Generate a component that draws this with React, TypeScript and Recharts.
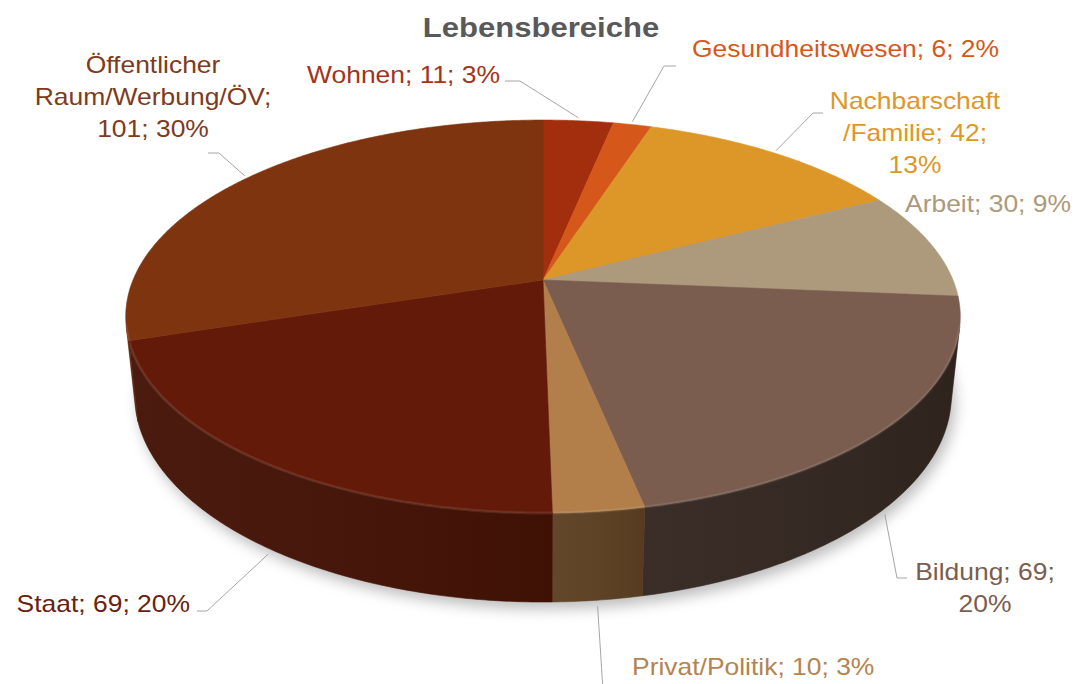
import React from 'react';
import { PieChart, Pie } from 'recharts';

// ---------- data ----------
const categories = [
  'Wohnen',
  'Gesundheitswesen',
  'Nachbarschaft/Familie',
  'Arbeit',
  'Bildung',
  'Privat/Politik',
  'Staat',
  'Öffentlicher Raum/Werbung/ÖV',
];
const values = [11, 6, 42, 30, 69, 10, 69, 101];
const percentLabels = ['3%', '2%', '13%', '9%', '20%', '3%', '20%', '30%'];

// ---------- styles ----------
const topColors = ['#a22e0d', '#d5581a', '#dd9728', '#ad997b', '#7b5d50', '#b27f4a', '#631a08', '#7f3410'];
const wallColors = ['#6e1f08', '#93390f', '#9a6519', '#7a6a54', '#32251f', '#5c3f22', '#431104', '#5a2409'];
const textColors = ['#a3341a', '#d5581a', '#dd9728', '#ad997b', '#7b5d50', '#b5844f', '#6a2210', '#803a1c'];

const FONT = '"Liberation Sans", Arial, Helvetica, sans-serif';
const FS = 23;
const SX = 1.15;

// label layout (text position + leader elbow points, from pie outward)
type Layout = {
  lines: string[];
  x: number;
  ys: number[];
  anchor: 'start' | 'middle' | 'end';
  leader: number[][] | null;
  at: 'top' | 'bottom';
};
const c = categories, v = values, p = percentLabels;
const labelLayout: Layout[] = [
  { lines: [`${c[0]}; ${v[0]}; ${p[0]}`], x: 500, ys: [83], anchor: 'end', leader: [[520, 81], [505, 81]], at: 'top' },
  { lines: [`${c[1]}; ${v[1]}; ${p[1]}`], x: 692, ys: [57], anchor: 'start', leader: [[664, 66], [676, 66]], at: 'top' },
  { lines: ['Nachbarschaft', `/Familie; ${v[2]};`, p[2]], x: 915, ys: [109, 141, 173], anchor: 'middle', leader: [[813, 113], [823, 113]], at: 'top' },
  { lines: [`${c[3]}; ${v[3]}; ${p[3]}`], x: 905, ys: [212], anchor: 'start', leader: null, at: 'top' },
  { lines: [`${c[4]}; ${v[4]};`, p[4]], x: 985, ys: [580, 612], anchor: 'middle', leader: [[897, 578], [907, 578]], at: 'bottom' },
  { lines: [`${c[5]}; ${v[5]}; ${p[5]}`], x: 632, ys: [675], anchor: 'start', leader: [[603, 690]], at: 'bottom' },
  { lines: [`${c[6]}; ${v[6]}; ${p[6]}`], x: 190, ys: [612], anchor: 'end', leader: [[207, 611], [197, 611]], at: 'bottom' },
  { lines: ['Öffentlicher', 'Raum/Werbung/ÖV;', `${v[7]}; ${p[7]}`], x: 153, ys: [73, 105, 137], anchor: 'middle', leader: [[219, 153], [208, 153]], at: 'top' },
];

const chartData = categories.map((name, i) => ({
  name,
  value: values[i],
  fill: topColors[i],
  wall: wallColors[i],
  idx: i,
}));

// ---------- 3D perspective projection ----------
const DIST = 4.766;
const ELEV = (27.56 * Math.PI) / 180;
const DEPTH = 0.218;
const COS_E = Math.cos(ELEV);
const SIN_E = Math.sin(ELEV);
const VIS = (Math.asin(1 / (DIST * COS_E)) * 180) / Math.PI;

function makeProj(cx: number, cy: number, r: number) {
  const F = r * DIST;
  return (X: number, Y: number, Z: number): [number, number] => {
    const dep = DIST - Y * COS_E - Z * SIN_E;
    const yc = -Y * SIN_E + Z * COS_E;
    return [cx + (F * X) / dep, cy - (F * yc) / dep];
  };
}

function arcPts(proj: any, a0: number, a1: number, Z: number) {
  const n = Math.max(2, Math.ceil(Math.abs(a1 - a0) / 0.5));
  const pts: [number, number][] = [];
  for (let k = 0; k <= n; k++) {
    const a = ((a0 + ((a1 - a0) * k) / n) * Math.PI) / 180;
    pts.push(proj(Math.cos(a), -Math.sin(a), Z));
  }
  return pts;
}

const toPath = (pts: [number, number][]) =>
  pts.map((q, k) => `${k === 0 ? 'M' : 'L'}${q[0].toFixed(2)},${q[1].toFixed(2)}`).join(' ') + ' Z';
const toLine = (pts: [number, number][]) =>
  pts.map((q, k) => `${k === 0 ? 'M' : 'L'}${q[0].toFixed(2)},${q[1].toFixed(2)}`).join(' ');

function wallRange(s: number, e: number) {
  const lo = Math.max(Math.min(s, e), -180 + VIS);
  const hi = Math.min(Math.max(s, e), -VIS);
  return hi > lo ? [hi, lo] : null;
}

// ---------- shapes ----------
const ShadowShape = (props: any) => {
  const { cx, cy, outerRadius, startAngle, endAngle } = props;
  const proj = makeProj(cx, cy, outerRadius);
  const bottom = [proj(0, 0, -DEPTH), ...arcPts(proj, startAngle, endAngle, -DEPTH)];
  const id = `sh${Math.round(startAngle * 100)}`;
  return (
    <g>
      <defs>
        <filter id={id} filterUnits="userSpaceOnUse" x={0} y={0} width={1080} height={684}>
          <feGaussianBlur stdDeviation={7} />
        </filter>
      </defs>
      <path d={toPath(bottom)} fill="#000" fillOpacity={0.26} transform="translate(4,7)" filter={`url(#${id})`} />
    </g>
  );
};

const SliceShape = (props: any) => {
  const { cx, cy, outerRadius, startAngle, endAngle, fill, payload } = props;
  const proj = makeProj(cx, cy, outerRadius);
  const wallColor = (payload && (payload.wall || (payload.payload && payload.payload.wall))) || '#333';
  const top = [proj(0, 0, 0), ...arcPts(proj, startAngle, endAngle, 0)];
  const wr = wallRange(startAngle, endAngle);
  const gid = `wg${Math.round(startAngle * 100)}`;
  let wall = null;
  let rim = null;
  if (wr) {
    const upper = arcPts(proj, wr[0], wr[1], 0);
    const lower = arcPts(proj, wr[1], wr[0], -DEPTH);
    wall = (
      <g>
        <path d={toPath([...upper, ...lower])} fill={wallColor} stroke={wallColor} strokeWidth={0.6} />
        <path d={toPath([...upper, ...lower])} fill={`url(#${gid})`} />
      </g>
    );
    rim = <path d={toLine(upper)} fill="none" stroke="#ffffff" strokeOpacity={0.09} strokeWidth={3} />;
  }
  return (
    <g>
      <defs>
        <linearGradient id={gid} x1="0" y1="0" x2="1" y2="0">
          <stop offset="0%" stopColor="#ffffff" stopOpacity={0.04} />
          <stop offset="100%" stopColor="#000000" stopOpacity={0.06} />
        </linearGradient>
      </defs>
      {wall}
      <path d={toPath(top)} fill={fill} stroke={fill} strokeWidth={0.6} />
      {rim}
    </g>
  );
};

const renderLabel = (props: any) => {
  const { cx, cy, outerRadius, midAngle, index } = props;
  const i = typeof index === 'number' ? index : props.payload?.idx ?? 0;
  const L = labelLayout[i];
  if (!L) return null;
  const proj = makeProj(cx, cy, outerRadius);
  const m = (midAngle * Math.PI) / 180;
  let anchorPt = proj(Math.cos(m), -Math.sin(m), L.at === 'bottom' ? -DEPTH : 0);
  anchorPt = L.at === 'bottom' ? [anchorPt[0], anchorPt[1] + 6] : [anchorPt[0], anchorPt[1] - 3];
  return (
    <g key={`lbl${i}`}>
      {L.leader && (
        <path
          d={toLine([anchorPt, ...(L.leader as [number, number][])])}
          fill="none"
          stroke="#a6a6a6"
          strokeWidth={1}
        />
      )}
      {L.lines.map((t, k) => (
        <text
          key={k}
          transform={`translate(${L.x},${L.ys[k]}) scale(${SX},1)`}
          x={0}
          y={0}
          textAnchor={L.anchor}
          fill={textColors[i]}
          fontFamily={FONT}
          fontSize={FS}
        >
          {t}
        </text>
      ))}
    </g>
  );
};

export default function App() {
  return (
    <div style={{ position: 'absolute', left: 0, top: 0, width: 1080, height: 684, background: '#fff' }}>
      <PieChart width={1080} height={684} margin={{ top: 0, right: 0, bottom: 0, left: 0 }}>
        <Pie
          data={chartData}
          dataKey="value"
          nameKey="name"
          cx={543}
          cy={280}
          outerRadius={410}
          startAngle={90}
          endAngle={-270}
          isAnimationActive={false}
          shape={ShadowShape}
          stroke="none"
          labelLine={false}
        />
        <Pie
          data={chartData}
          dataKey="value"
          nameKey="name"
          cx={543}
          cy={280}
          outerRadius={410}
          startAngle={90}
          endAngle={-270}
          isAnimationActive={false}
          shape={SliceShape}
          stroke="none"
          labelLine={false}
          label={renderLabel}
        />
      </PieChart>
      <svg width={1080} height={60} style={{ position: 'absolute', left: 0, top: 0 }}>
        <text
          transform={`translate(541,37) scale(${SX},1)`}
          textAnchor="middle"
          fontFamily={FONT}
          fontWeight="bold"
          fontSize={27}
          fill="#595959"
        >
          Lebensbereiche
        </text>
      </svg>
    </div>
  );
}
